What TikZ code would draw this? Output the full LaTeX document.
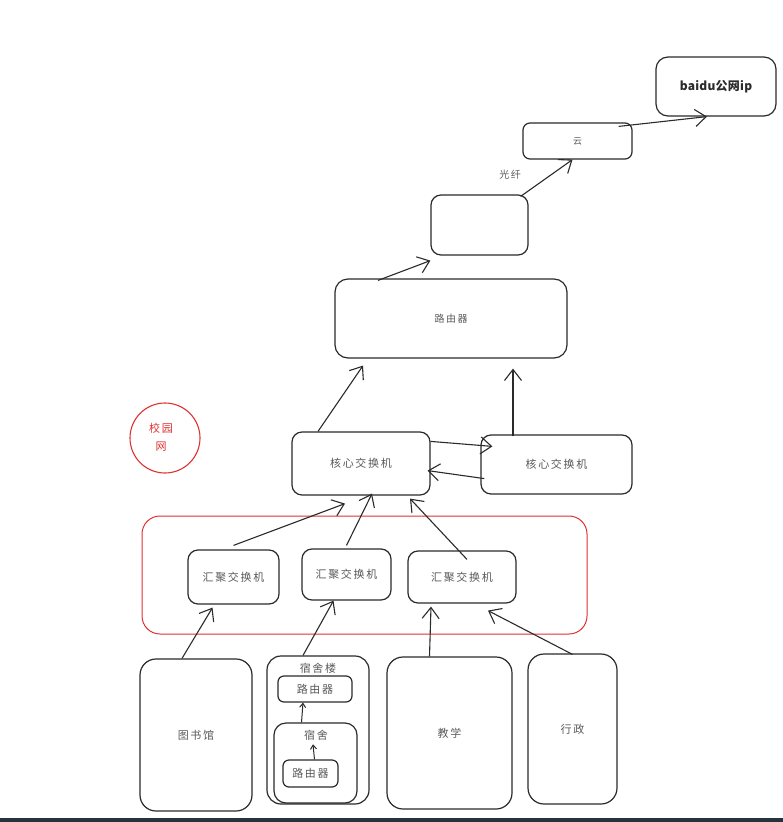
\documentclass[tikz,border=0pt]{standalone}
\usepackage{fontspec}
\usetikzlibrary{arrows.meta}
\newfontfamily\cjk[LetterSpace=15]{Noto Sans CJK SC}
\newfontfamily\cjkb[LetterSpace=2]{Noto Sans CJK SC}
\definecolor{ink}{HTML}{2B2B2B}
\definecolor{txt}{HTML}{5A5A5A}
\definecolor{redink}{HTML}{E03131}
\definecolor{barc}{HTML}{25343A}
\begin{document}
\begin{tikzpicture}[x=1pt,y=-1pt,
  box/.style={draw=ink,line width=1.2pt,rounded corners=10pt,inner sep=0pt,
    font=\cjk\fontsize{11}{13}\selectfont,text=txt},
  lbl/.style={inner sep=0pt,font=\cjk\fontsize{11}{13}\selectfont,text=txt},
  arr/.style={draw=ink,line width=1.1pt,-{Straight Barb[length=11pt,width=17pt,line width=1.1pt]}},
  sarr/.style={draw=ink,line width=1pt,-{Straight Barb[length=4pt,width=6pt,line width=1pt]}}]
\useasboundingbox (0,0) rectangle (783,822);
\fill[white] (0,0) rectangle (783,822);
\fill[barc] (0,817.5) rectangle (783,822);

% top chain
\node[box,minimum width=120pt,minimum height=59pt,rounded corners=12pt,font=\cjkb\bfseries\fontsize{12}{14}\selectfont,text=ink] (baidu) at (716,86.5) {baidu公网ip};
\node[box,minimum width=109pt,minimum height=36pt,rounded corners=7pt,font=\cjk\fontsize{9}{11}\selectfont] (yun) at (577.5,141) {云};
\node[box,minimum width=97pt,minimum height=60pt] (empty) at (479.5,225) {};
\node[box,minimum width=232pt,minimum height=79pt,rounded corners=13pt,font=\cjk\fontsize{10}{12}\selectfont] (router) at (451,318.5) {路由器};
\node[lbl,font=\cjk\fontsize{10}{12}\selectfont] (fiber) at (510,175) {光纤};

% core
\node[box,minimum width=138pt,minimum height=63pt] (coreL) at (361,463.5) {核心交换机};
\node[box,minimum width=151pt,minimum height=59pt] (coreR) at (556.5,464.5) {核心交换机};

% campus label
\node[circle,draw=redink,line width=1.1pt,minimum size=70pt,inner sep=0pt] (campus) at (165,438) {};
\node[lbl,text=redink,align=center,font=\cjk\fontsize{11}{18}\selectfont] (campuslbl) at (161,437) {校园\\网};

% aggregation
\node[draw=redink,line width=1pt,rounded corners=18pt,minimum width=445pt,minimum height=118pt] (agg) at (364.5,575) {};
\node[box,minimum width=91pt,minimum height=54pt] (hj1) at (233.5,577) {汇聚交换机};
\node[box,minimum width=89pt,minimum height=51pt] (hj2) at (346.5,574.5) {汇聚交换机};
\node[box,minimum width=108pt,minimum height=52pt] (hj3) at (462,577) {汇聚交换机};

% buildings
\node[box,minimum width=112pt,minimum height=152pt,rounded corners=16pt] (lib) at (196,735) {图书馆};
\node[box,minimum width=102pt,minimum height=148pt,rounded corners=14pt] (dormB) at (318,730) {};
\node[lbl] (dormBlbl) at (318,668) {宿舍楼};
\node[box,minimum width=74pt,minimum height=26pt,rounded corners=6pt] (dr1) at (315,689) {路由器};
\node[box,minimum width=83pt,minimum height=80pt,rounded corners=12pt] (dorm) at (315.5,763) {};
\node[lbl] (dormlbl) at (316,735) {宿舍};
\node[box,minimum width=55pt,minimum height=27pt,rounded corners=6pt] (dr2) at (310.5,773.5) {路由器};
\node[box,minimum width=125pt,minimum height=152pt,rounded corners=16pt] (teach) at (449.5,733) {教学};
\node[box,minimum width=89pt,minimum height=150pt,rounded corners=16pt] (admin) at (572.5,729) {行政};

% arrows
\draw[arr] ([xshift=-14pt,yshift=-4pt]yun.north east) -- ([xshift=-9pt]baidu.south);
\draw[arr] ([xshift=-8pt,yshift=-2pt]empty.north east) -- ([xshift=-5pt]yun.south);
\draw[arr] ([xshift=-73pt,yshift=-2pt]router.north) -- ([yshift=-5pt]empty.south west);
\draw[arr] ([xshift=-43pt]coreL.north) -- ([xshift=-88pt,yshift=-7pt]router.south);
\draw[arr] ([xshift=-43.5pt,yshift=-2pt]coreR.north) -- ([xshift=62pt,yshift=-10pt]router.south);
\draw[arr] ([yshift=-10pt]coreL.north east) -- ([xshift=12pt,yshift=-12pt]coreR.north west);
\draw[arr] ([xshift=4pt,yshift=16pt]coreR.south west) -- ([xshift=-3pt,yshift=25pt]coreL.south east);
\draw[arr] ([yshift=4pt]hj1.north) -- ([xshift=-16pt,yshift=-8pt]coreL.south);
\draw[arr] ([yshift=3pt]hj2.north) -- ([xshift=11pt,yshift=2pt]coreL.south);
\draw[arr] ([xshift=5pt,yshift=-9pt]hj3.north) -- ([xshift=49pt,yshift=-3pt]coreL.south);
\draw[arr] ([xshift=-14pt]lib.north) -- ([xshift=-21pt,yshift=-3pt]hj1.south);
\draw[arr] ([xshift=-15pt]dormB.north) -- ([xshift=-13pt]hj2.south);
\draw[arr] ([xshift=-20pt]teach.north) -- ([xshift=-31pt,yshift=-3pt]hj3.south);
\draw[arr] ([yshift=-1pt]admin.north) -- ([xshift=26pt,yshift=-7pt]hj3.south);
\draw[sarr] ([xshift=-14pt]dorm.north) -- ([xshift=-12pt]dr1.south);
\draw[sarr] ([xshift=4pt]dr2.north) -- ([xshift=-3pt,yshift=-4pt]dormlbl.south);
\end{tikzpicture}
\end{document}
